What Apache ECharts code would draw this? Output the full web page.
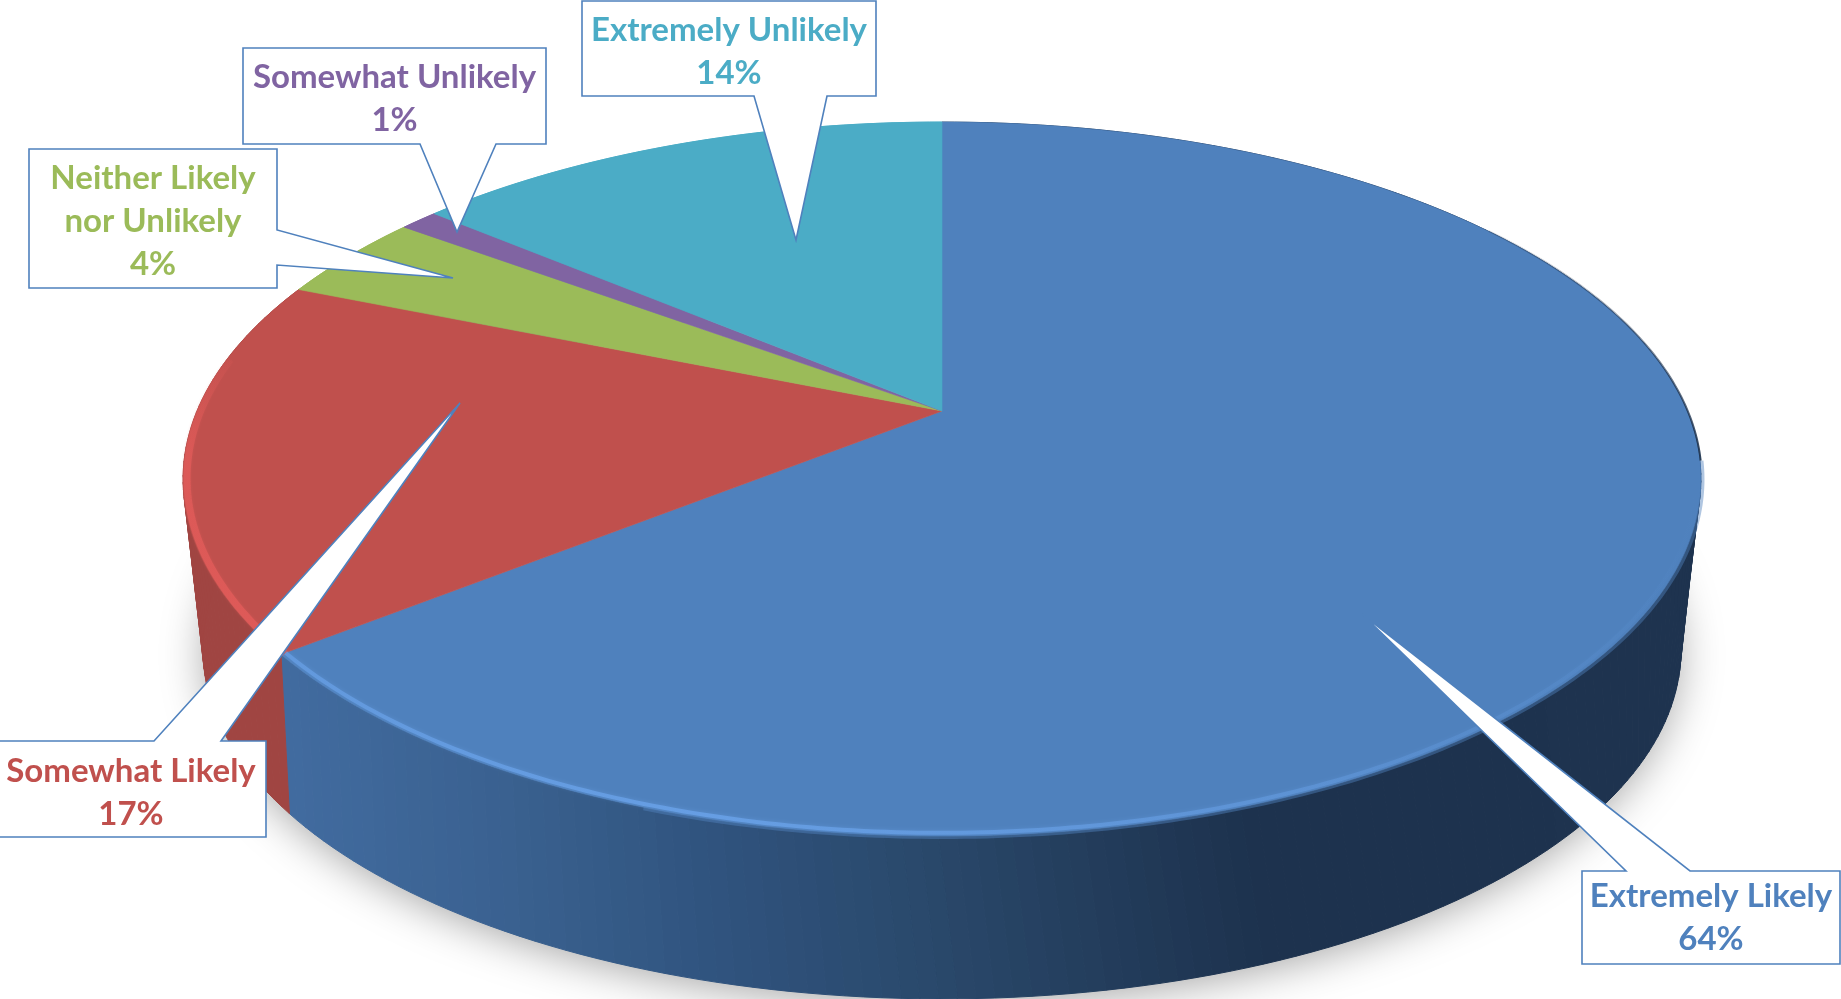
<!DOCTYPE html>
<html><head><meta charset="utf-8">
<style>html,body{margin:0;padding:0;background:#fff}#c{width:1841px;height:999px}</style>
<script src="https://cdn.jsdelivr.net/npm/echarts@6/dist/echarts.min.js"></script>
</head><body><div id="c"></div>
<script>
const categories = ['Extremely Likely','Somewhat Likely','Neither Likely\nnor Unlikely','Somewhat Unlikely','Extremely Unlikely'];
const values = [64,17,4,1,14];
const colors = ['#4f81bd','#c0504d','#9bbb59','#8064a2','#4bacc6'];

// Layout of the callout boxes: [left, top, right, bottom, tail a, tip, tail b], text nudge
const callouts = [
  {box:[1582,871,1840,964], tail:[[1626,871],[1362,614],[1690,871]], dy:0},
  {box:[-2,741,266,837],    tail:[[154,741],[460,403],[221,741]], dy:4},
  {box:[29,149,277,288],    tail:[[277,230],[453,278],[277,265]], dy:3},
  {box:[243,48,546,144],    tail:[[420,144],[457,232],[496,144]], dy:3},
  {box:[582,1,876,96],      tail:[[754,96],[796,240],[827,96]], dy:3}
];
const TOP = {cx:942, ay:411, a:745, b:344, k:0.1905, skew:0.02};
const BOT = {cx:942, ay:566, a:717.4, b:329, k:0.24, skew:0};
const total = values.reduce((s,v)=>s+v,0);
const starts = []; values.reduce((s,v,i)=>{starts[i]=s; return s+v;},0);
const ang = p => p/total*Math.PI*2;

function proj(t, r, scale){
  const s = scale||1, w = t + r.skew*Math.sin(t/2);
  const u = Math.sin(w)*s, v = Math.cos(w)*s, d = 1+r.k*v;
  return [r.cx + r.a*u/d, r.ay - r.b*v/d];
}
function arc(t0,t1,r,scale){
  const n = Math.max(2,Math.ceil((t1-t0)/0.012)), out=[];
  for(let i=0;i<=n;i++) out.push(proj(t0+(t1-t0)*i/n,r,scale));
  return out;
}
const blueStops = [[0,[65,107,159]],[290,[65,107,159]],[500,[58,97,144]],[700,[48,84,127]],[940,[41,71,105]],[1240,[29,50,78]],[1841,[30,51,79]]];
function blueAt(x){
  for(let i=1;i<blueStops.length;i++){
    if(x<=blueStops[i][0]){
      const [x0,c0]=blueStops[i-1],[x1,c1]=blueStops[i],f=(x-x0)/(x1-x0);
      return 'rgb('+c0.map((c,j)=>Math.round(c+(c1[j]-c)*f)).join(',')+')';
    }
  }
  return 'rgb(30,51,79)';
}
const wallColor = (i,x)=> i===0 ? blueAt(x) : i===1 ? '#a04542' : colors[i];

function renderShadow(){
  return {type:'polygon', silent:true, shape:{points:arc(0,Math.PI*2,BOT,0.995)},
    style:{fill:'#d8d8d8', shadowBlur:45, shadowColor:'rgba(0,0,0,0.38)', shadowOffsetY:6}};
}
function renderWall(params, api){
  const i = params.dataIndex;
  const t0 = ang(starts[i]), t1 = ang(starts[i]+api.value(0));
  const n = Math.max(1,Math.ceil((t1-t0)/0.02)), children=[];
  for(let j=0;j<n;j++){
    const a=t0+(t1-t0)*j/n, b=t0+(t1-t0)*(j+1)/n;
    const p=[proj(a,TOP),proj(b,TOP),proj(b,BOT),proj(a,BOT)];
    const c=wallColor(i,(p[0][0]+p[1][0])/2);
    children.push({type:'polygon',silent:true,shape:{points:p},style:{fill:c,stroke:c,lineWidth:1}});
  }
  return {type:'group',children};
}
function renderTop(params, api){
  const i = params.dataIndex;
  const t0 = ang(starts[i]), t1 = ang(starts[i]+api.value(0));
  const pts = [[TOP.cx,TOP.ay]].concat(arc(t0,t1,TOP));
  return {type:'polygon',silent:true,shape:{points:pts},style:{fill:colors[i],stroke:colors[i],lineWidth:0.6}};
}
function renderRim(params, api){
  const i = params.dataIndex;
  const t0 = ang(starts[i]), t1 = ang(starts[i]+api.value(0));
  const G = echarts.graphic.LinearGradient;
  const children=[];
  if(i===0){
    children.push({type:'polyline',silent:true,shape:{points:arc(Math.PI*0.3,Math.PI*0.54,TOP,1.001)},
      style:{fill:null,lineWidth:2,stroke:new G(0,0,0,1,[{offset:0,color:'rgba(30,51,79,0.15)'},{offset:1,color:'rgba(30,51,79,0.95)'}])}});
    children.push({type:'polyline',silent:true,shape:{points:arc(Math.PI*0.54,Math.PI*1.1,TOP,1.002)},
      style:{fill:null,lineWidth:4,stroke:'rgba(79,129,189,0.45)'}});
    children.push({type:'polyline',silent:true,shape:{points:arc(t0+Math.PI*0.56,t1,TOP,0.994)},
      style:{fill:null,lineWidth:4,shadowBlur:4,shadowColor:'rgba(104,160,230,0.5)',
        stroke:new G(1,0,0,0,[{offset:0,color:'rgba(104,160,230,0)'},{offset:0.3,color:'rgba(104,160,230,0.5)'},{offset:0.7,color:'rgba(104,160,230,0.9)'},{offset:1,color:'rgba(104,160,230,0.7)'}])}});
  }
  if(i===1){
    children.push({type:'polyline',silent:true,shape:{points:arc(t0,t0+(t1-t0)*0.78,TOP,0.995)},
      style:{fill:null,lineWidth:7,shadowBlur:3,shadowColor:'rgba(222,90,88,0.5)',
        stroke:new G(0,0,0,1,[{offset:0,color:'rgba(222,90,88,0.1)'},{offset:0.35,color:'rgba(222,90,88,0.85)'},{offset:1,color:'rgba(222,90,88,1)'}])}});
  }
  return {type:'group',children};
}
function renderCallout(params, api){
  const i = params.dataIndex, c = callouts[i], b = c.box;
  const [L,T,R,B] = b, [p,q,s] = c.tail;
  let pts;
  if(p[1]===T && s[1]===T) pts=[[L,T],p,q,s,[R,T],[R,B],[L,B]];
  else if(p[1]===B && s[1]===B) pts=[[L,T],[R,T],[R,B],s,q,p,[L,B]];
  else pts=[[L,T],[R,T],p,q,s,[R,B],[L,B]];
  return {type:'group',children:[
    {type:'polygon',silent:true,shape:{points:pts},style:{fill:'#fff',stroke:'#4f81bd',lineWidth:1.6,lineJoin:'miter'}},
    {type:'text',silent:true,style:{text:categories[i]+'\n'+api.value(0)+'%',x:(Math.max(L,0)+R)/2-(i===1?2:0),y:(T+B)/2+c.dy,
      align:'center',verticalAlign:'middle',fill:colors[i],font:'bold 33px Lato',lineHeight:43}}
  ]};
}
const seriesData = values.map((v,i)=>({name:categories[i],value:[v]}));
const mk=(name,z,fn,data)=>({type:'custom',name,coordinateSystem:'none',z,silent:true,clip:false,animation:false,renderItem:fn,data:data||seriesData});
const chart = echarts.init(document.getElementById('c'),null,{renderer:'canvas'});
chart.setOption({
  backgroundColor:'#fff',animation:false,tooltip:{show:false},
  series:[
    mk('shadow',1,renderShadow,[{value:[1]}]),
    mk('walls',2,renderWall),
    mk('tops',3,renderTop),
    mk('rims',4,renderRim),
    mk('callouts',5,renderCallout)
  ]
});
</script></body></html>
